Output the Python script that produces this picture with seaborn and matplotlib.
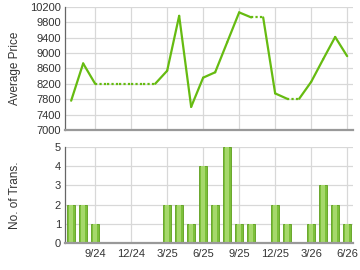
import matplotlib
matplotlib.use("Agg")
import matplotlib.pyplot as plt
import seaborn as sns
import numpy as np
import pandas as pd

months = ["7/24", "8/24", "9/24", "10/24", "11/24", "12/24", "1/25", "2/25", "3/25", "4/25",
          "5/25", "6/25", "7/25", "8/25", "9/25", "10/25", "11/25", "12/25", "1/26", "2/26",
          "3/26", "4/26", "5/26", "6/26"]
avg_price = [7760, 8730, 8200, 8200, 8200, 8200, 8200, 8200, 8540, 9970,
             7600, 8360, 8500, 9280, 10060, 9930, 9930, 7950, 7810, 7810,
             8250, 8840, 9420, 8920]
num_trans = [2, 2, 1, 0, 0, 0, 0, 0, 2, 2,
             1, 4, 2, 5, 1, 1, 0, 2, 1, 0,
             1, 3, 2, 1]
tick_labels = ["9/24", "12/24", "3/25", "6/25", "9/25", "12/25", "3/26", "6/26"]

sns.set_theme(style="white")
plt.rcParams["font.family"] = ["Liberation Sans", "DejaVu Sans"]

df = pd.DataFrame({"month": months, "idx": np.arange(len(months)),
                   "price": avg_price, "trans": num_trans})

fig = plt.figure(figsize=(3.6, 2.7), dpi=100)
ax1 = fig.add_axes([0.181, 0.519, 0.800, 0.455])
ax2 = fig.add_axes([0.181, 0.100, 0.800, 0.356])

grid_c = "#d8d8d8"
line_c = "#66bb11"
text_c = "#333333"
tick_idx = [months.index(t) for t in tick_labels]

# Price line: solid segment into a month with transactions, dotted otherwise
for i in range(1, len(df)):
    seg = df.iloc[i - 1:i + 1]
    solid = df["trans"].iloc[i] > 0
    sns.lineplot(data=seg, x="idx", y="price", ax=ax1, color=line_c,
                 linewidth=1.6,
                 linestyle="-" if solid else (0, (1, 1)), legend=False)

for ax in (ax1, ax2):
    ax.set_xlim(-0.5, len(months) - 0.5)
    ax.set_xticks(tick_idx)
    ax.grid(True, color=grid_c, linewidth=0.9)
    ax.set_axisbelow(True)
    for s in ("top", "right"):
        ax.spines[s].set_visible(False)
    ax.spines["left"].set_color("#666666")
    ax.spines["left"].set_linewidth(0.9)
    ax.spines["bottom"].set_color("#999999")
    ax.spines["bottom"].set_linewidth(1.6)
    ax.tick_params(axis="y", labelsize=8, colors=text_c, length=0, pad=3)

ax1.set_ylim(7000, 10200)
ax1.set_yticks(np.arange(7000, 10201, 400))
ax1.set_xticklabels([])
ax1.tick_params(axis="x", length=0)
ax1.set_xlabel("")
ax1.set_ylabel("Average Price", fontsize=8.5, color=text_c)

# Bars
sns.barplot(data=df, x="idx", y="trans", ax=ax2, native_scale=True, width=0.72,
            color="#7cc03a", edgecolor="#5d9e1c", linewidth=0.6, saturation=1)
sns.barplot(data=df, x="idx", y="trans", ax=ax2, native_scale=True, width=0.3,
            color="#a6d86c", linewidth=0, saturation=1)
ax2.set_xlim(-0.5, len(months) - 0.5)
ax2.set_xticks(tick_idx)
ax2.set_xticklabels(tick_labels)
ax2.tick_params(axis="x", labelsize=8, colors=text_c, length=3, width=0.8, pad=1,
                direction="out")
ax2.set_ylim(0, 5)
ax2.set_yticks(range(0, 6))
ax2.set_xlabel("")
ax2.set_ylabel("No. of Trans.", fontsize=8.5, color=text_c)

ax1.yaxis.set_label_coords(-0.155, 0.5)
ax2.yaxis.set_label_coords(-0.155, 0.5)

fig.savefig("out.png", dpi=100)
